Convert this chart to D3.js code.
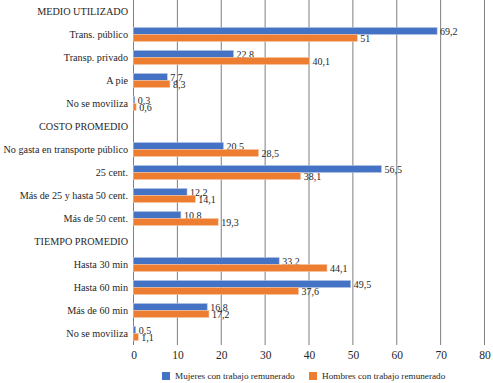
<!DOCTYPE html>
<html><head><meta charset="utf-8">
<script src="https://cdn.jsdelivr.net/npm/d3@7"></script>
<style>body{margin:0;background:#fff}svg{display:block}</style>
</head><body>
<script>
const categories = ["MEDIO UTILIZADO","Trans. público","Transp. privado","A pie","No se moviliza","COSTO PROMEDIO","No gasta en transporte público","25 cent.","Más de 25 y hasta 50 cent.","Más de 50 cent.","TIEMPO PROMEDIO","Hasta 30 min","Hasta 60 min","Más de 60 min","No se moviliza"];
const mujeres = [null,69.2,22.8,7.7,0.3,null,20.5,56.5,12.2,10.8,null,33.2,49.5,16.8,0.5];
const hombres = [null,51,40.1,8.3,0.6,null,28.5,38.1,14.1,19.3,null,44.1,37.6,17.2,1.1];
const xTicks = [0,10,20,30,40,50,60,70,80];
const seriesNames = ["Mujeres con trabajo remunerado","Hombres con trabajo remunerado"];
const colors = ["#4472C4","#ED7D31"];

const FF='"Liberation Serif"';
const W=493,H=383;
const svg=d3.select("body").append("svg").attr("width",W).attr("height",H);
const x=d3.scaleLinear().domain([0,80]).range([133.5,484.5]);
const y=d3.scaleBand().domain(d3.range(categories.length)).range([0,345]);
const bh=7;

svg.append("g").selectAll("line").data(xTicks).join("line")
  .attr("x1",d=>x(d)).attr("x2",d=>x(d)).attr("y1",0).attr("y2",345)
  .attr("stroke","#7f7f7f").attr("stroke-width",1);

const ax=svg.append("g").attr("transform","translate(0,345)")
  .call(d3.axisBottom(x).tickValues(xTicks).tickSize(0).tickPadding(6).tickFormat(d=>d));
ax.select(".domain").remove();
ax.selectAll("text").style("font-family",FF).attr("font-size",11.5).attr("fill","#262626");

svg.append("g").selectAll("text").data(categories).join("text")
  .attr("x",128).attr("y",(d,i)=>y(i)+y.bandwidth()/2).attr("dy","0.35em")
  .attr("text-anchor","end").style("font-family",FF).attr("font-size",10.2).attr("fill","#262626")
  .text(d=>d);

const fmt=v=>String(v).replace(".",",");
[mujeres,hombres].forEach((vals,s)=>{
  const g=svg.append("g");
  const data=vals.map((v,i)=>({v,i})).filter(d=>d.v!==null);
  const yy=d=>y(d.i)+y.bandwidth()/2 - bh + s*bh;
  g.selectAll("rect").data(data).join("rect")
    .attr("x",x(0)).attr("y",yy).attr("width",d=>x(d.v)-x(0)).attr("height",bh)
    .attr("fill",colors[s]).attr("stroke",s?"#f6c3a0":"#b4c3e3").attr("stroke-width",0.6);
  g.selectAll("text").data(data).join("text")
    .attr("x",d=>x(d.v)+3).attr("y",d=>yy(d)+bh/2).attr("dy","0.35em")
    .style("font-family",FF).attr("font-size",10).attr("fill","#262626")
    .text(d=>fmt(d.v));
});

const leg=[{x:162,t:seriesNames[0],c:colors[0]},{x:309,t:seriesNames[1],c:colors[1]}];
const lg=svg.append("g").selectAll("g").data(leg).join("g");
lg.append("rect").attr("x",d=>d.x).attr("y",372).attr("width",8).attr("height",8).attr("fill",d=>d.c);
lg.append("text").attr("x",d=>d.x+13).attr("y",376).attr("dy","0.35em")
  .style("font-family",FF).attr("font-size",9.2).attr("fill","#262626").text(d=>d.t);
</script>
</body></html>
